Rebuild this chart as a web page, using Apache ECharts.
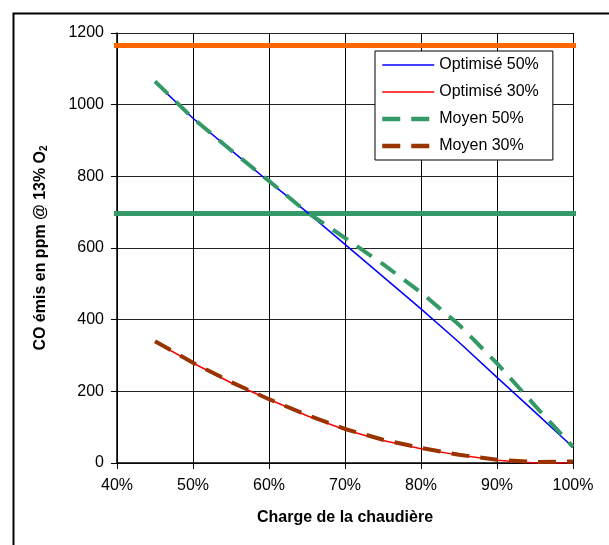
<!DOCTYPE html>
<html>
<head>
<meta charset="utf-8">
<script src="https://cdn.jsdelivr.net/npm/echarts@6/dist/echarts.min.js"></script>
<style>
html,body{margin:0;padding:0;background:#fff;}
#chart{width:609px;height:545px;}
</style>
</head>
<body>
<div id="chart"></div>
<script>
// Data
var charge = [45, 50, 55, 60, 65, 70, 75, 80, 85, 90, 95, 100];
var optimise50 = [1063, 962, 873, 785, 700, 610, 520, 430, 337, 239, 142, 44];
var optimise30 = [338, 279, 224, 178, 132, 93, 63, 40, 22, 8, 0, 0];
var moyen50 = [1065, 962, 873, 787, 700, 628, 555, 476, 386, 278, 160, 45];
var moyen30 = [340, 280, 226, 178, 134, 95, 65, 42, 23, 9, 3, 4];
var refLineX = [37.6, 100.9];
var refOrange = 1165;
var refGreen = 696;
var xTicks = [40, 50, 60, 70, 80, 90, 100];
var yTicks = [0, 200, 400, 600, 800, 1000, 1200];

function pairs(xs, ys) { return xs.map(function (x, i) { return [x, ys[i]]; }); }
function flat(xs, v) { return xs.map(function (x) { return [x, v]; }); }

var FONT = 'Liberation Sans, Arial, sans-serif';
var chart = echarts.init(document.getElementById('chart'), null, { renderer: 'canvas' });
chart.setOption({
  animation: false,
  backgroundColor: '#fff',
  textStyle: { fontFamily: FONT },
  graphic: [{
    type: 'rect', left: 11, top: 11, z: -10,
    shape: { width: 620, height: 560 },
    style: { fill: 'none', stroke: '#000', lineWidth: 2 }
  }],
  grid: { left: 117, right: 36, top: 33, bottom: 82 },
  xAxis: {
    type: 'value', min: xTicks[0], max: xTicks[xTicks.length - 1], interval: 10,
    name: 'Charge de la chaudière', nameLocation: 'middle', nameGap: 47,
    nameTextStyle: { fontFamily: FONT, fontSize: 16, fontWeight: 'bold', color: '#000' },
    axisLine: { show: true, onZero: false, lineStyle: { color: '#000', width: 1.5 } },
    axisTick: { show: true, length: 6, lineStyle: { color: '#000' } },
    axisLabel: { formatter: '{value}%', fontFamily: FONT, fontSize: 16, color: '#000', margin: 15 },
    splitLine: { show: true, lineStyle: { color: '#000', width: 1 } }
  },
  yAxis: {
    type: 'value', min: yTicks[0], max: yTicks[yTicks.length - 1], interval: 200,
    name: 'CO émis en ppm @ 13% O{sub|2}', nameLocation: 'middle', nameGap: 68,
    nameTextStyle: {
      fontFamily: FONT, fontSize: 16, fontWeight: 'bold', color: '#000',
      rich: { sub: { fontFamily: FONT, fontSize: 10, fontWeight: 'bold', color: '#000', verticalAlign: 'bottom', padding: [6, 0, 0, 0] } }
    },
    axisLine: { show: true, lineStyle: { color: '#000', width: 1.5 } },
    axisTick: { show: true, length: 6, lineStyle: { color: '#000' } },
    axisLabel: { formatter: function (v) { return String(v); }, fontFamily: FONT, fontSize: 16, color: '#000', margin: 13 },
    splitLine: { show: true, lineStyle: { color: '#222', width: 1 } }
  },
  legend: {
    orient: 'vertical', left: 375, top: 51,
    data: [
      { name: 'Optimisé 50%', lineStyle: { width: 1.5 } },
      { name: 'Optimisé 30%', lineStyle: { width: 1.5 } },
      { name: 'Moyen 50%', lineStyle: { width: 4.5 } },
      { name: 'Moyen 30%', lineStyle: { width: 4.5 } }
    ],
    itemWidth: 52, itemHeight: 14, itemGap: 11,
    padding: [6, 14, 6, 5],
    itemStyle: { opacity: 0 },
    backgroundColor: '#fff', borderColor: '#000', borderWidth: 1, borderRadius: 0,
    textStyle: { fontFamily: FONT, fontSize: 16, color: '#000', padding: [0, 0, 0, 0] }
  },
  series: [
    { name: 'ref1160', type: 'line', data: flat(refLineX, refOrange), clip: false, symbol: 'none', silent: true,
      lineStyle: { color: '#FF6600', width: 5 }, z: 1 },
    { name: 'ref695', type: 'line', data: flat(refLineX, refGreen), clip: false, symbol: 'none', silent: true,
      lineStyle: { color: '#339966', width: 5 }, z: 1 },
    { name: 'Optimisé 50%', type: 'line', data: pairs(charge, optimise50), symbol: 'none', showSymbol: false,
      itemStyle: { color: '#0000FF' }, lineStyle: { color: '#0000FF', width: 1.5 }, z: 2 },
    { name: 'Optimisé 30%', type: 'line', data: pairs(charge, optimise30), symbol: 'none', showSymbol: false,
      itemStyle: { color: '#FF0000' }, lineStyle: { color: '#FF0000', width: 1.5 }, z: 2 },
    { name: 'Moyen 50%', type: 'line', data: pairs(charge, moyen50), symbol: 'none', showSymbol: false,
      itemStyle: { color: '#339966' }, lineStyle: { color: '#339966', width: 4, type: [18, 11] }, z: 3 },
    { name: 'Moyen 30%', type: 'line', data: pairs(charge, moyen30), symbol: 'none', showSymbol: false,
      itemStyle: { color: '#993300' }, lineStyle: { color: '#993300', width: 4, type: [18, 11] }, z: 3 }
  ]
});
</script>
</body>
</html>
